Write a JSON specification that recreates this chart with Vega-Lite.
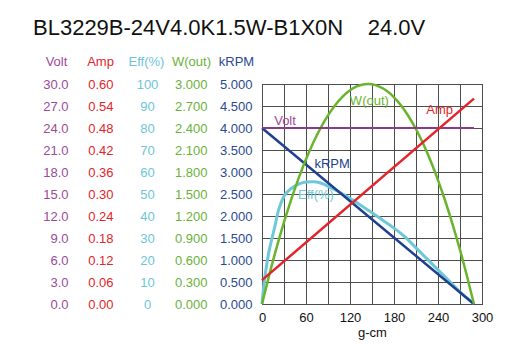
{
  "$schema": "https://vega.github.io/schema/vega-lite/v6.json",
  "width": 220,
  "height": 220,
  "autosize": "none",
  "padding": {"left": 262, "top": 84, "right": 34, "bottom": 51},
  "background": "white",
  "title": {
    "text": "BL3229B-24V4.0K1.5W-B1X0N\u00a0\u00a0\u00a0\u00a024.0V",
    "anchor": "start",
    "frame": "group",
    "font": "Liberation Sans",
    "fontSize": 22,
    "fontWeight": "normal",
    "color": "#111111",
    "dx": -229,
    "offset": 15
  },
  "datasets": {
    "curves": [
      {"series": "Volt", "torque": 0, "value": 24.0},
      {"series": "Volt", "torque": 289, "value": 24.0},
      {"series": "kRPM", "torque": 0, "value": 4.0},
      {"series": "kRPM", "torque": 289, "value": 0.0},
      {"series": "Amp", "torque": 0, "value": 0.065},
      {"series": "Amp", "torque": 289, "value": 0.56},
      {"series": "W", "torque": 0, "value": 0},
      {"series": "W", "torque": 10, "value": 0.401},
      {"series": "W", "torque": 20, "value": 0.773},
      {"series": "W", "torque": 30, "value": 1.116},
      {"series": "W", "torque": 40, "value": 1.431},
      {"series": "W", "torque": 50, "value": 1.717},
      {"series": "W", "torque": 60, "value": 1.974},
      {"series": "W", "torque": 70, "value": 2.203},
      {"series": "W", "torque": 80, "value": 2.402},
      {"series": "W", "torque": 90, "value": 2.573},
      {"series": "W", "torque": 100, "value": 2.715},
      {"series": "W", "torque": 110, "value": 2.829},
      {"series": "W", "torque": 120, "value": 2.914},
      {"series": "W", "torque": 130, "value": 2.97},
      {"series": "W", "torque": 140, "value": 2.997},
      {"series": "W", "torque": 145, "value": 3.0},
      {"series": "W", "torque": 150, "value": 2.996},
      {"series": "W", "torque": 160, "value": 2.965},
      {"series": "W", "torque": 170, "value": 2.907},
      {"series": "W", "torque": 180, "value": 2.819},
      {"series": "W", "torque": 190, "value": 2.703},
      {"series": "W", "torque": 200, "value": 2.557},
      {"series": "W", "torque": 210, "value": 2.384},
      {"series": "W", "torque": 220, "value": 2.181},
      {"series": "W", "torque": 230, "value": 1.95},
      {"series": "W", "torque": 240, "value": 1.69},
      {"series": "W", "torque": 250, "value": 1.401},
      {"series": "W", "torque": 260, "value": 1.083},
      {"series": "W", "torque": 270, "value": 0.737},
      {"series": "W", "torque": 280, "value": 0.362},
      {"series": "W", "torque": 289, "value": 0},
      {"series": "Eff", "torque": 0, "value": 0},
      {"series": "Eff", "torque": 3, "value": 10},
      {"series": "Eff", "torque": 6, "value": 17},
      {"series": "Eff", "torque": 9, "value": 23},
      {"series": "Eff", "torque": 13, "value": 29},
      {"series": "Eff", "torque": 18, "value": 36},
      {"series": "Eff", "torque": 22, "value": 42},
      {"series": "Eff", "torque": 26, "value": 46},
      {"series": "Eff", "torque": 30, "value": 49},
      {"series": "Eff", "torque": 40, "value": 52.5},
      {"series": "Eff", "torque": 50, "value": 54.5},
      {"series": "Eff", "torque": 60, "value": 55.5},
      {"series": "Eff", "torque": 70, "value": 55.6},
      {"series": "Eff", "torque": 80, "value": 55},
      {"series": "Eff", "torque": 90, "value": 53.5},
      {"series": "Eff", "torque": 100, "value": 51.8},
      {"series": "Eff", "torque": 110, "value": 50},
      {"series": "Eff", "torque": 120, "value": 48},
      {"series": "Eff", "torque": 135, "value": 44.8},
      {"series": "Eff", "torque": 150, "value": 41.5},
      {"series": "Eff", "torque": 165, "value": 38},
      {"series": "Eff", "torque": 180, "value": 34.5},
      {"series": "Eff", "torque": 195, "value": 30.5},
      {"series": "Eff", "torque": 210, "value": 25.5},
      {"series": "Eff", "torque": 225, "value": 20.5},
      {"series": "Eff", "torque": 240, "value": 15.5},
      {"series": "Eff", "torque": 255, "value": 10.5},
      {"series": "Eff", "torque": 270, "value": 5.5},
      {"series": "Eff", "torque": 289, "value": 0}
    ],
    "labels": [
      {"series": "Volt", "torque": 31.4, "value": 24.41, "label": "Volt"},
      {"series": "W", "torque": 146.4, "value": 2.714, "label": "W(out)"},
      {"series": "Amp", "torque": 242.2, "value": 0.517, "label": "Amp"},
      {"series": "kRPM", "torque": 95.6, "value": 3.1, "label": "kRPM"},
      {"series": "Eff", "torque": 73.6, "value": 47.7, "label": "Eff(%)"}
    ]
  },
  "encoding": {
    "x": {
      "field": "torque",
      "type": "quantitative",
      "scale": {"domain": [0, 300], "nice": false, "zero": false},
      "axis": {
        "values": [0, 30, 60, 90, 120, 150, 180, 210, 240, 270, 300],
        "labelExpr": "datum.value % 60 == 0 ? datum.label : ''",
        "grid": true,
        "title": "g-cm",
        "labelPadding": 7,
        "titlePadding": 2,
        "labelColor": "#111111",
        "titleColor": "#111111"
      }
    }
  },
  "layer": [
    {
      "encoding": {
        "y": {
          "field": "value",
          "type": "quantitative",
          "scale": {"domain": [0, 100], "nice": false, "zero": false},
          "axis": {
            "orient": "left",
            "offset": 105,
            "values": [0, 10, 20, 30, 40, 50, 60, 70, 80, 90, 100],
            "format": "d",
            "labelAlign": "center",
            "grid": false,
            "title": "Eff(%)",
            "titleX": -11,
            "labelColor": "#6CC5D8",
            "titleColor": "#6CC5D8"
          }
        }
      },
      "layer": [
        {
          "data": {"name": "curves"},
          "transform": [{"filter": "datum.series == 'Eff'"}],
          "mark": {"type": "line", "color": "#6EC8D8", "strokeWidth": 3, "interpolate": "monotone"}
        },
        {
          "data": {"name": "labels"},
          "transform": [{"filter": "datum.series == 'Eff'"}],
          "mark": {"type": "text", "color": "#6EC8D8", "font": "Liberation Sans", "fontSize": 13, "align": "center", "baseline": "alphabetic"},
          "encoding": {"text": {"field": "label"}}
        }
      ]
    },
    {
      "encoding": {
        "y": {
          "field": "value",
          "type": "quantitative",
          "scale": {"domain": [0, 5], "nice": false, "zero": false},
          "axis": {
            "orient": "left",
            "offset": 0,
            "values": [0, 0.5, 1, 1.5, 2, 2.5, 3, 3.5, 4, 4.5, 5],
            "format": ".3f",
            "grid": true,
            "title": "kRPM",
            "titleX": -26,
            "labelColor": "#2A4A92",
            "titleColor": "#2A4A92"
          }
        }
      },
      "layer": [
        {
          "data": {"name": "curves"},
          "transform": [{"filter": "datum.series == 'kRPM'"}],
          "mark": {"type": "line", "color": "#1F3F8F", "strokeWidth": 2.5}
        },
        {
          "data": {"name": "labels"},
          "transform": [{"filter": "datum.series == 'kRPM'"}],
          "mark": {"type": "text", "color": "#1F3F8F", "font": "Liberation Sans", "fontSize": 13, "align": "center", "baseline": "alphabetic"},
          "encoding": {"text": {"field": "label"}}
        }
      ]
    },
    {
      "encoding": {
        "y": {
          "field": "value",
          "type": "quantitative",
          "scale": {"domain": [0, 3], "nice": false, "zero": false},
          "axis": {
            "orient": "left",
            "offset": 45,
            "values": [0, 0.3, 0.6, 0.9, 1.2, 1.5, 1.8, 2.1, 2.4, 2.7, 3],
            "format": ".3f",
            "grid": false,
            "title": "W(out)",
            "titleX": -26,
            "labelColor": "#6AB23A",
            "titleColor": "#6AB23A"
          }
        }
      },
      "layer": [
        {
          "data": {"name": "curves"},
          "transform": [{"filter": "datum.series == 'W'"}],
          "mark": {"type": "line", "color": "#6AB42D", "strokeWidth": 2.5, "interpolate": "monotone"}
        },
        {
          "data": {"name": "labels"},
          "transform": [{"filter": "datum.series == 'W'"}],
          "mark": {"type": "text", "color": "#6AB42D", "font": "Liberation Sans", "fontSize": 13, "align": "center", "baseline": "alphabetic"},
          "encoding": {"text": {"field": "label"}}
        }
      ]
    },
    {
      "encoding": {
        "y": {
          "field": "value",
          "type": "quantitative",
          "scale": {"domain": [0, 30], "nice": false, "zero": false},
          "axis": {
            "orient": "left",
            "offset": 184,
            "values": [0, 3, 6, 9, 12, 15, 18, 21, 24, 27, 30],
            "format": ".1f",
            "grid": false,
            "title": "Volt",
            "titleX": -22,
            "labelColor": "#9B4A99",
            "titleColor": "#9B4A99"
          }
        }
      },
      "layer": [
        {
          "data": {"name": "curves"},
          "transform": [{"filter": "datum.series == 'Volt'"}],
          "mark": {"type": "line", "color": "#8B3A8B", "strokeWidth": 2}
        },
        {
          "data": {"name": "labels"},
          "transform": [{"filter": "datum.series == 'Volt'"}],
          "mark": {"type": "text", "color": "#9B4A99", "font": "Liberation Sans", "fontSize": 13, "align": "center", "baseline": "alphabetic"},
          "encoding": {"text": {"field": "label"}}
        }
      ]
    },
    {
      "encoding": {
        "y": {
          "field": "value",
          "type": "quantitative",
          "scale": {"domain": [0, 0.6], "nice": false, "zero": false},
          "axis": {
            "orient": "left",
            "offset": 139,
            "values": [0, 0.06, 0.12, 0.18, 0.24, 0.3, 0.36, 0.42, 0.48, 0.54, 0.6],
            "format": ".2f",
            "grid": false,
            "title": "Amp",
            "titleX": -23,
            "labelColor": "#E3242B",
            "titleColor": "#E3242B"
          }
        }
      },
      "layer": [
        {
          "data": {"name": "curves"},
          "transform": [{"filter": "datum.series == 'Amp'"}],
          "mark": {"type": "line", "color": "#E3242B", "strokeWidth": 2.5}
        },
        {
          "data": {"name": "labels"},
          "transform": [{"filter": "datum.series == 'Amp'"}],
          "mark": {"type": "text", "color": "#E3242B", "font": "Liberation Sans", "fontSize": 13, "align": "center", "baseline": "alphabetic"},
          "encoding": {"text": {"field": "label"}}
        }
      ]
    }
  ],
  "resolve": {"scale": {"y": "independent"}, "axis": {"y": "independent"}},
  "config": {
    "view": {"stroke": "#222222", "strokeWidth": 1},
    "axis": {
      "labelFont": "Liberation Sans",
      "labelFontSize": 13,
      "titleFont": "Liberation Sans",
      "titleFontSize": 13,
      "titleFontWeight": "normal",
      "ticks": false,
      "domain": false,
      "labelFlush": false,
      "labelOverlap": false,
      "gridColor": "#4d4d4d",
      "gridOpacity": 1,
      "gridWidth": 1
    },
    "axisY": {
      "labelPadding": 10,
      "titleAngle": 0,
      "titleAlign": "center",
      "titleBaseline": "alphabetic",
      "titleY": -19
    }
  }
}
